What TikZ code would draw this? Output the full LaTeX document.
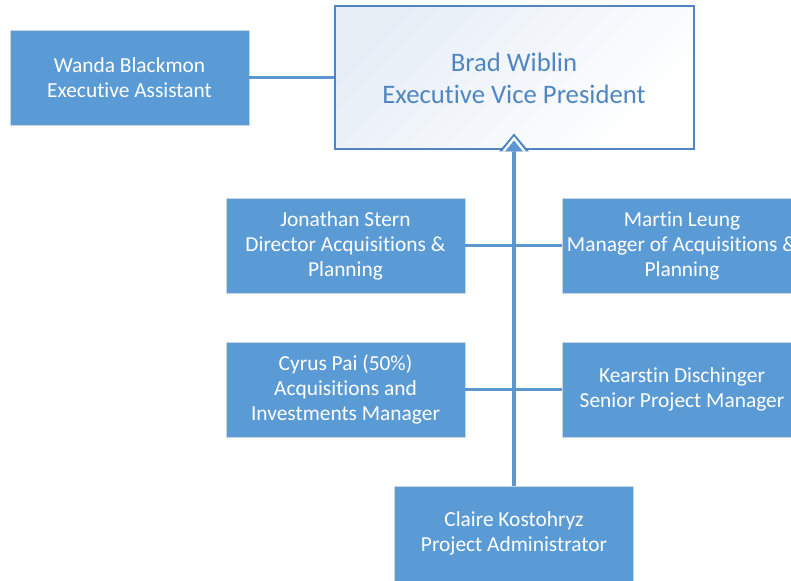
\documentclass[tikz,border=0pt]{standalone}
\usepackage{fontspec}
\setmainfont{Carlito}[Ligatures=NoCommon]
\begin{document}
\definecolor{boxblue}{HTML}{5B9BD5}
\definecolor{lineblue}{HTML}{5B96D0}
\definecolor{headblue}{HTML}{4F86C2}
\definecolor{edgegray}{HTML}{C9D6E3}
\begin{tikzpicture}[x=1pt,y=-1pt,
  person/.style={draw=edgegray,line width=0.8pt,fill=boxblue,text=white,
    minimum width=239pt,minimum height=95pt,inner sep=0pt,align=center,
    font=\fontsize{21.4}{25}\selectfont},
  head/.style={draw=headblue,line width=2pt,minimum width=359pt,minimum height=143pt,
    top color=headblue!14,bottom color=white,shading angle=45,
    text=headblue,align=center,inner sep=0pt,font=\fontsize{26.7}{32}\selectfont},
  link/.style={draw=lineblue,line width=3pt},
  spine/.style={draw=lineblue,line width=4pt}]
\clip (0,0) rectangle (791,580);
\fill[white] (0,0) rectangle (791,580);

% executive and assistant
\node[head] (evp) at (514,78) {Brad Wiblin\\Executive Vice President};
\node[person] (wanda) at (129.5,78) {Wanda Blackmon\\Executive Assistant};

% direct reports
\node[person] (jon) at (345.5,245.5) {Jonathan Stern\\Director Acquisitions \&\\Planning};
\node[person] (martin) at (682,245.5) {Martin Leung\\Manager of Acquisitions \&\\Planning};
\node[person] (cyrus) at (345.5,389.5) {Cyrus Pai (50\%)\\Acquisitions and\\Investments Manager};
\node[person] (kearstin) at (682,389.5) {Kearstin Dischinger\\Senior Project Manager};
\node[person] (claire) at (514,533.5) {Claire Kostohryz\\Project Administrator};

% connectors
\draw[link] (wanda.east) -- (evp.west);
\draw[link] (jon.east) -- (martin.west);
\draw[link] (cyrus.east) -- (kearstin.west);
\coordinate (spinetop) at (evp.south);
\draw[spine] (claire.north) -- (spinetop);

% arrow head on the spine: blue rim, white band, blue core
\fill[headblue] ([xshift=-15pt,yshift=-1pt]spinetop) -- ([yshift=17pt]spinetop) -- ([xshift=15pt,yshift=-1pt]spinetop) -- cycle;
\fill[white] ([xshift=-12pt,yshift=-1pt]spinetop) -- ([yshift=14pt]spinetop) -- ([xshift=12pt,yshift=-1pt]spinetop) -- cycle;
\fill[lineblue] ([xshift=-9pt,yshift=-1pt]spinetop) -- ([yshift=10pt]spinetop) -- ([xshift=9pt,yshift=-1pt]spinetop) -- cycle;
\end{tikzpicture}
\end{document}
